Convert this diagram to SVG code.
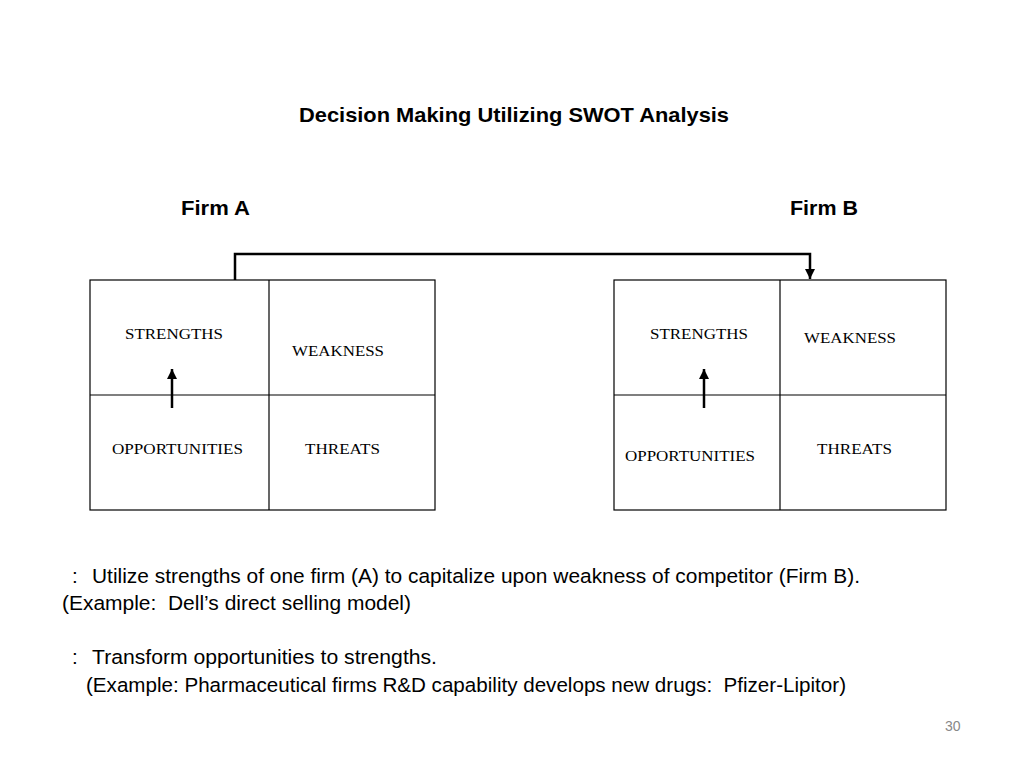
<svg xmlns="http://www.w3.org/2000/svg" width="1024" height="768" viewBox="0 0 1024 768">
<style>
.sans{font-family:"Liberation Sans",Arial,sans-serif;fill:#000}
.title{font-size:20.5px;font-weight:bold}
.firm{font-size:20.5px;font-weight:bold}
.body{font-size:20.5px}
.lbl{font-family:"Liberation Serif","Times New Roman",serif;font-size:15.5px;fill:#000}
.box{fill:none;stroke:#000;stroke-width:1.2}
.conn{fill:none;stroke:#000;stroke-width:2.5}
.num{font-family:"Liberation Sans",Arial,sans-serif;font-size:14px;fill:#888}
</style>
<defs>
<marker id="ah" viewBox="0 0 10 10" refX="10" refY="5" markerWidth="4" markerHeight="4" markerUnits="strokeWidth" orient="auto">
<path d="M0,0 L10,5 L0,10 z" fill="#000"/>
</marker>
</defs>
<rect width="1024" height="768" fill="#fff"/>
<text class="sans title" x="299" y="122" textLength="430" lengthAdjust="spacingAndGlyphs">Decision Making Utilizing SWOT Analysis</text>
<text class="sans firm" x="181" y="215" textLength="69" lengthAdjust="spacingAndGlyphs">Firm A</text>
<text class="sans firm" x="790" y="215" textLength="68" lengthAdjust="spacingAndGlyphs">Firm B</text>

<g id="firmA">
<rect class="box" x="90" y="280" width="345" height="230"/>
<line class="box" x1="269" y1="280" x2="269" y2="510"/>
<line class="box" x1="90" y1="395" x2="435" y2="395"/>
<text class="lbl" x="125" y="339" textLength="98" lengthAdjust="spacingAndGlyphs">STRENGTHS</text>
<text class="lbl" x="292" y="356" textLength="92" lengthAdjust="spacingAndGlyphs">WEAKNESS</text>
<text class="lbl" x="112" y="454" textLength="131" lengthAdjust="spacingAndGlyphs">OPPORTUNITIES</text>
<text class="lbl" x="305" y="454" textLength="75" lengthAdjust="spacingAndGlyphs">THREATS</text>
</g>

<g id="firmB">
<rect class="box" x="614" y="280" width="332" height="230"/>
<line class="box" x1="780" y1="280" x2="780" y2="510"/>
<line class="box" x1="614" y1="395" x2="946" y2="395"/>
<text class="lbl" x="650" y="339" textLength="98" lengthAdjust="spacingAndGlyphs">STRENGTHS</text>
<text class="lbl" x="804" y="343" textLength="92" lengthAdjust="spacingAndGlyphs">WEAKNESS</text>
<text class="lbl" x="625" y="461" textLength="130" lengthAdjust="spacingAndGlyphs">OPPORTUNITIES</text>
<text class="lbl" x="817" y="454" textLength="75" lengthAdjust="spacingAndGlyphs">THREATS</text>
</g>

<g id="connectors">
<path class="conn" d="M235,280 L235,254 L810,254 L810,279" marker-end="url(#ah)"/>
<path class="conn" d="M172,408 L172,369" marker-end="url(#ah)"/>
<path class="conn" d="M704,408 L704,369" marker-end="url(#ah)"/>
</g>

<text class="sans body" x="72" y="583">:</text>
<text class="sans body" x="92" y="583" textLength="768" lengthAdjust="spacingAndGlyphs">Utilize strengths of one firm (A) to capitalize upon weakness of competitor (Firm B).</text>
<text class="sans body" x="62" y="610" textLength="349" lengthAdjust="spacingAndGlyphs" xml:space="preserve">(Example:  Dell’s direct selling model)</text>
<text class="sans body" x="72" y="664">:</text>
<text class="sans body" x="92" y="664" textLength="345" lengthAdjust="spacingAndGlyphs">Transform opportunities to strengths.</text>
<text class="sans body" x="86" y="692" textLength="760" lengthAdjust="spacingAndGlyphs" xml:space="preserve">(Example: Pharmaceutical firms R&amp;D capability develops new drugs:  Pfizer-Lipitor)</text>
<text class="num" x="945" y="731">30</text>
</svg>
